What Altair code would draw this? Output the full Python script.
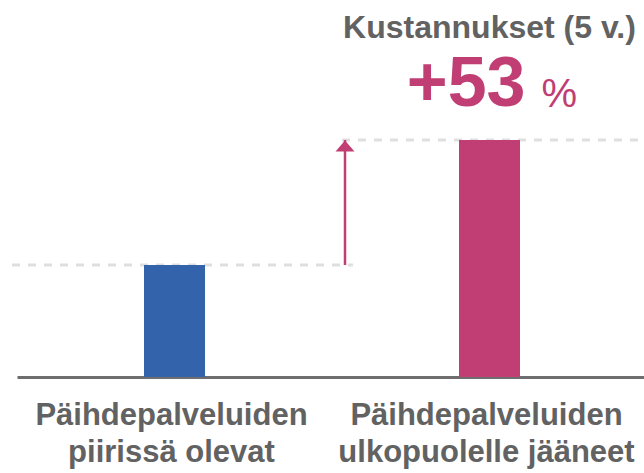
import altair as alt
import pandas as pd

# --- data -------------------------------------------------------------
categories = ["Päihdepalveluiden\npiirissä olevat",
              "Päihdepalveluiden\nulkopuolelle jääneet"]
costs = [100, 153]              # relative five-year costs (index)
bar_colors = ["#3263ab", "#c03e73"]
title_text = "Kustannukset (5 v.)"
change_pct = round((costs[1] / costs[0] - 1) * 100)   # 53

FONT = "Liberation Sans"
GRAY = "#626262"
MAGENTA = bar_colors[1]

df = pd.DataFrame({"cat": categories, "cost": costs, "color": bar_colors})

x_scale = alt.Scale(domain=categories, range=[5, 635], paddingInner=0, paddingOuter=0)
y_scale = alt.Scale(domain=[52.5, 212.4], nice=False, zero=False)

x_enc = alt.X("cat:N", scale=x_scale, sort=categories, title=None,
              axis=alt.Axis(labelExpr="split(datum.label, '\\n')",
                            labelAngle=0, labelFont=FONT, labelFontSize=31,
                            labelFontWeight="bold", labelColor=GRAY,
                            labelLineHeight=37, labelPadding=23, labelOffset=-3,
                            ticks=False, tickSize=0, domainColor="#6e6e6e",
                            domainWidth=3, grid=False, labelLimit=400))
y_enc = alt.Y("cost:Q", scale=y_scale, axis=None)

bars = alt.Chart(df).mark_bar(size=61).encode(
    x=x_enc, y=y_enc, y2=alt.datum(52.5),
    color=alt.Color("color:N", scale=None),
)

# dashed reference lines at each bar's level
ref = pd.DataFrame({"cost": costs, "x0": [0, 330], "x1": [341, 632]})
dashes = alt.Chart(ref).mark_rule(strokeDash=[8, 8], strokeWidth=3, color="#dfdfdf").encode(
    y=alt.Y("cost:Q", scale=y_scale, axis=None),
    x=alt.X("x0:Q", scale=None, axis=None),
    x2="x1:Q",
)

# arrow from lower level to higher level
arrow_df = pd.DataFrame({"low": [costs[0]], "high": [costs[1]]})
arrow_line = alt.Chart(arrow_df).mark_rule(strokeWidth=2.5, color=MAGENTA).encode(
    x=alt.value(333),
    y=alt.Y("low:Q", scale=y_scale, axis=None),
    y2="high:Q",
)
arrow_head = alt.Chart(arrow_df).mark_point(
    shape="M-1,1.2L1,1.2L0,0.05Z", size=361, filled=True, opacity=1, color=MAGENTA
).encode(
    x=alt.value(333),
    y=alt.Y("high:Q", scale=y_scale, axis=None),
)

ann = pd.DataFrame({"cat": [categories[1]], "title": [title_text],
                    "pct": [f"+{change_pct}"], "unit": ["%"]})
title_mark = alt.Chart(ann).mark_text(
    font=FONT, fontSize=32, fontWeight="bold", color=GRAY, baseline="alphabetic"
).encode(x=alt.X("cat:N", scale=x_scale, sort=categories), y=alt.value(38), text="title:N")
pct_mark = alt.Chart(ann).mark_text(
    font=FONT, fontSize=70, fontWeight="bold", color=MAGENTA, baseline="alphabetic",
    align="right", dx=36
).encode(x=alt.X("cat:N", scale=x_scale, sort=categories), y=alt.value(106), text="pct:N")
unit_mark = alt.Chart(ann).mark_text(
    font=FONT, fontSize=40, fontWeight="normal", color=MAGENTA, baseline="alphabetic",
    align="left", dx=52
).encode(x=alt.X("cat:N", scale=x_scale, sort=categories), y=alt.value(107), text="unit:N")

chart = alt.layer(dashes, bars, arrow_line, arrow_head, title_mark, pct_mark, unit_mark).properties(
    width=632, height=377,
    background="white",
    autosize=alt.AutoSizeParams(type="none"),
    padding={"left": 12, "top": 0, "right": 0, "bottom": 96},
).configure_view(stroke=None)

chart.save("out.html", embed_options={"renderer": "svg", "actions": False})
